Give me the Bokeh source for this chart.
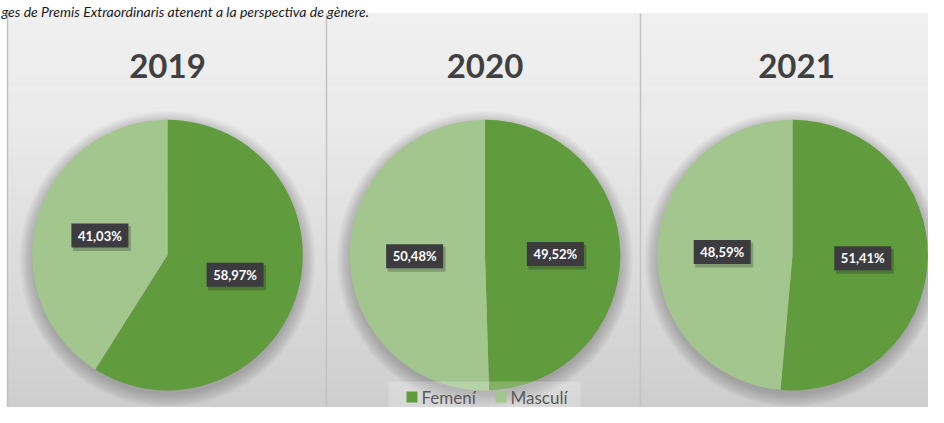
import math
from bokeh.plotting import figure
from bokeh.models import Range1d
from bokeh.core.properties import value
from bokeh.embed import file_html
from bokeh.resources import INLINE

# ---------------- data ----------------
years = ["2019", "2020", "2021"]
categories = ["Femení", "Masculí"]
femeni = [58.97, 49.52, 51.41]
masculi = [41.03, 50.48, 48.59]
colors = ["#609B3E", "#A3C68F"]
caption = "ges de Premis Extraordinaris atenent a la perspectiva de gènere."

# ---------------- layout (pixels of the picture, y downwards) ----------------
W, H = 928, 407
def Y(sy):
    # picture y (down) -> data y (up)
    return H - sy

panel_edges = [7, 326, 640, 940]
panel_top = 13
CX = [167, 484.5, 792]
TX = [167, 484.5, 796]
CY = 254.6
R = 135.3
LABEL_R = 0.52 * R

p = figure(width=W, height=H, x_range=Range1d(0, W), y_range=Range1d(0, H),
           output_backend="svg", toolbar_location=None, min_border=0,
           x_axis_location=None, y_axis_location=None,
           background_fill_color="white", border_fill_color="white",
           outline_line_color=None)
p.grid.visible = False

# ---------------- panel backgrounds (vertical gradient bands) ----------------
stops = [(13, 0xF0), (120, 0xEA), (220, 0xE0), (320, 0xD7), (410, 0xCD)]
def gray_at(sy):
    for (y0, c0), (y1, c1) in zip(stops[:-1], stops[1:]):
        if y0 <= sy <= y1:
            t = (sy - y0) / (y1 - y0)
            c = int(round(c0 + (c1 - c0) * t))
            return "#%02x%02x%02x" % (c, c, c)
    c = stops[-1][1]
    return "#%02x%02x%02x" % (c, c, c)

N = 80
tops, bots, cols = [], [], []
for i in range(N):
    y0 = panel_top + (H + 2 - panel_top) * i / N
    y1 = panel_top + (H + 2 - panel_top) * (i + 1) / N
    tops.append(Y(y0)); bots.append(Y(y1)); cols.append(gray_at((y0 + y1) / 2))
p.quad(left=panel_edges[0], right=panel_edges[-1], top=tops, bottom=bots,
       fill_color=cols, line_color=cols, line_width=1)

# panel borders / dividers
for xe in panel_edges[:-1]:
    p.segment(x0=xe, y0=Y(panel_top), x1=xe, y1=Y(H + 2), line_color="#c2c2c2", line_width=1.5)

# ---------------- pie shadows ----------------
for k in range(14):
    p.circle(x=CX, y=[Y(CY + 4)] * 3, radius=R + k * 1.0,
             fill_color="black", fill_alpha=0.016, line_color=None)

# ---------------- pies ----------------
for i, yr in enumerate(years):
    vals = [femeni[i], masculi[i]]
    start = math.pi / 2
    for j, v in enumerate(vals):
        end = start - 2 * math.pi * v / 100.0
        p.wedge(x=[CX[i]], y=[Y(CY)], radius=R, start_angle=start, end_angle=end,
                direction="clock", fill_color=colors[j], line_color=None)
        start = end

# ---------------- data labels ----------------
lx, ly, ltxt = [], [], []
for i in range(len(years)):
    cum = 0.0
    for v in (femeni[i], masculi[i]):
        mid = math.radians((cum + v / 2) * 3.6)
        lx.append(CX[i] + LABEL_R * math.sin(mid))
        ly.append(Y(CY - LABEL_R * math.cos(mid)))
        ltxt.append(("%.2f%%" % v).replace(".", ","))
        cum += v

p.rect(x=[x + 2 for x in lx], y=[y - 3 for y in ly], width=58, height=25,
       width_units="screen", height_units="screen",
       fill_color="black", fill_alpha=0.22, line_color=None)
p.rect(x=lx, y=ly, width=57, height=24, width_units="screen", height_units="screen",
       fill_color="#3C3B40", line_color=None)
p.text(x=lx, y=ly, text=ltxt, text_align="center", text_baseline="middle",
       text_color="white", text_font=value("Lato"), text_font_style="bold",
       text_font_size="13px")

# ---------------- titles ----------------
p.text(x=TX, y=[Y(65)] * 3, text=years, text_align="center", text_baseline="alphabetic",
       text_color="#404040", text_font=value("Lato"), text_font_style="bold",
       text_font_size="33px")

# ---------------- legend ----------------
p.quad(left=[388], right=[580], top=[Y(381)], bottom=[Y(H + 2)],
       fill_color="white", fill_alpha=0.22, line_color=None)
p.rect(x=[411.5, 500.5], y=[Y(396.5)] * 2, width=11, height=11,
       width_units="screen", height_units="screen", fill_color=colors, line_color=None)
p.text(x=[421, 510], y=[Y(396.5)] * 2, text=categories, text_align="left",
       text_baseline="middle", text_color="#595959", text_font=value("Lato"),
       text_font_size="17px")

# ---------------- caption (cut at the top in the reference; kept whole here) ----------------
p.text(x=[1], y=[Y(11)], text=[caption], text_align="left", text_baseline="alphabetic",
       text_color="#1a1a1a", text_font=value("Lato"), text_font_style="italic",
       text_font_size="14px")

open("out.html", "w").write(file_html(p, INLINE))
